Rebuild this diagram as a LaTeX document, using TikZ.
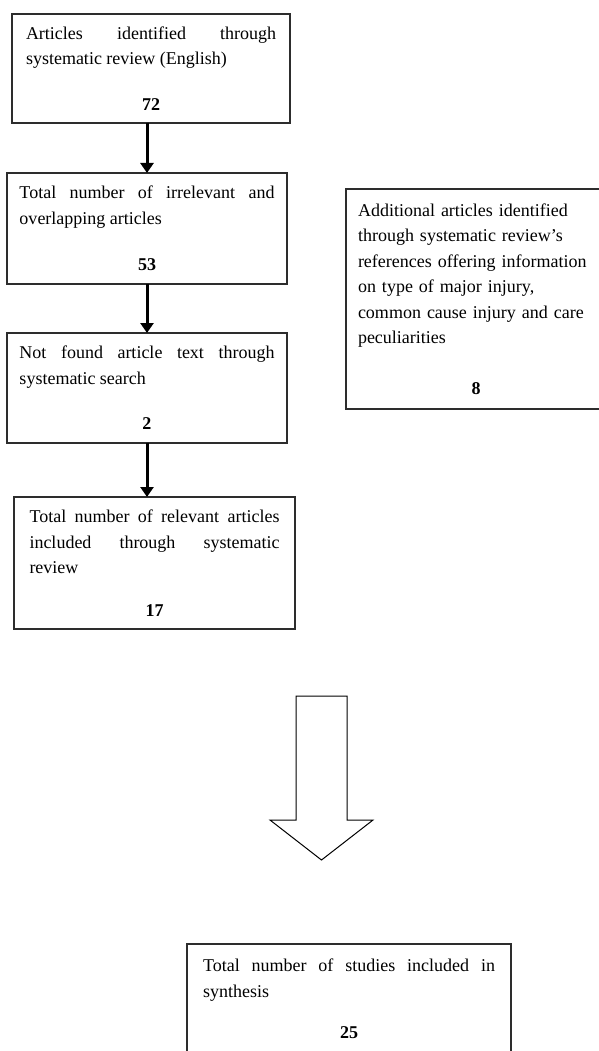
\documentclass[tikz,border=0pt]{standalone}
\usepackage{fontspec}
\setmainfont{Liberation Serif}
\usetikzlibrary{arrows.meta,positioning}
\definecolor{boxline}{RGB}{45,45,45}
\setlength{\parindent}{0pt}
\hyphenpenalty=10000
\tolerance=10000
\newcommand{\boxcount}[2]{\par\vspace{#1}\hfill\textbf{#2}\hfill\null}

\begin{document}
\begin{tikzpicture}[
  x=1pt, y=-1pt,
  stepbox/.style={draw=boxline, line width=1.5pt, anchor=north west, outer sep=0pt,
    align=justify, font=\fontsize{18}{25.5}\selectfont},
  sidebox/.style={stepbox, align=left},
  flow/.style={-{Triangle[width=13pt,length=10pt]}, line width=3pt},
  hollow/.style={draw=black, line width=1pt, line join=miter}
]
\useasboundingbox (0,0) rectangle (598,1051);

\node[stepbox, text width=250pt, inner xsep=14pt, minimum height=109pt] (ident) at (12,14)
  {Articles identified through systematic review (English)\boxcount{20pt}{72}};
\node[stepbox, text width=255pt, inner xsep=12.5pt, minimum height=111pt] (irrel) at (7,173)
  {Total number of irrelevant and overlapping articles\boxcount{21pt}{53}};
\node[stepbox, text width=255pt, inner xsep=12.5pt, minimum height=110pt] (notfound) at (7,333)
  {Not found article text through systematic search\boxcount{20pt}{2}};
\node[stepbox, text width=250pt, inner xsep=15.5pt, minimum height=132pt] (relev) at (14,497)
  {Total number of relevant articles included through systematic review\boxcount{17pt}{17}};
\node[sidebox, text width=236pt, inner xsep=12pt, minimum height=220pt] (extra) at (346,189)
  {Additional articles identified through systematic review’s references offering information on type of major injury, common cause injury and care peculiarities\boxcount{25pt}{8}};
\node[stepbox, text width=292pt, inner xsep=16pt, minimum height=110pt] (synth) at (187,944)
  {Total number of studies included in synthesis\boxcount{16pt}{25}};

\draw[flow] (ident.south -| irrel.north) -- (irrel.north);
\draw[flow] (irrel.south) -- (notfound.north);
\draw[flow] (notfound.south) -- (notfound.south |- relev.north);

% block arrow towards the synthesis box
\draw[hollow] (296,696) -- (347,696) -- (347,820) -- (373,820) -- (321.5,860)
  -- (270,820) -- (296,820) -- cycle;
\end{tikzpicture}
\end{document}
